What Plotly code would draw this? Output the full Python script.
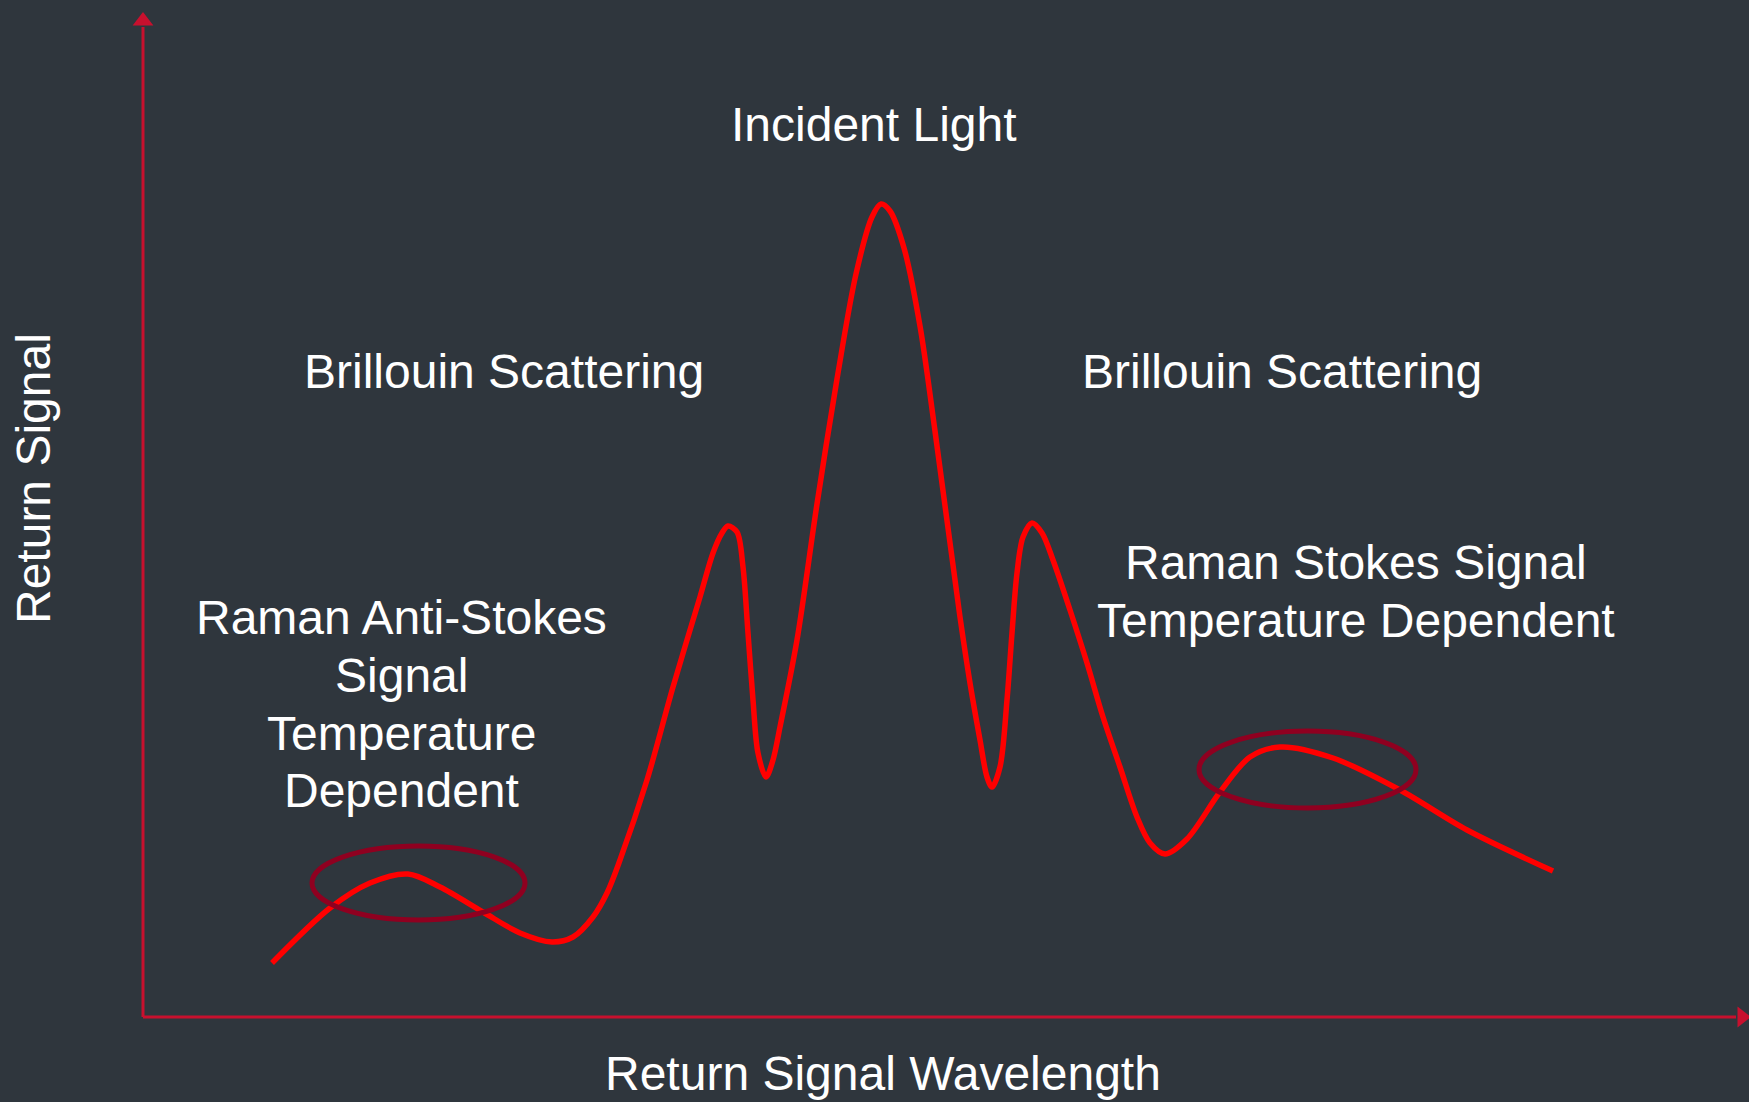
import plotly.graph_objects as go

# ---- data (arbitrary units: wavelength offset / return signal) ----
wavelength = [129, 187, 227, 265, 297, 340, 377, 409, 430, 450, 464, 477, 504, 530, 557, 570,
              579, 585, 594, 600, 605, 610, 615, 623, 630, 637, 654, 674, 694, 713, 729, 738,
              747, 761, 777, 792, 817, 827, 837, 844, 849, 857, 864, 869, 874, 880, 889, 899,
              910, 927, 944, 960, 977, 994, 1007, 1022, 1044, 1077, 1107, 1137, 1190,
              1257, 1324, 1410]
signal = [54, 109, 134, 143, 130, 105, 84, 75, 80, 100, 124, 157, 237, 330, 420, 464,
          484, 491, 485, 450, 384, 317, 264, 240, 257, 290, 377, 513, 638, 743, 800, 813,
          806, 769, 691, 586, 400, 334, 277, 240, 230, 250, 317, 384, 444, 480, 494, 484,
          457, 407, 354, 300, 250, 200, 174, 163, 178, 225, 260, 270, 259,
          227, 187, 146]

# highlighted regions (x0, x1, y0, y1)
anti_stokes_region = [169, 382, 97, 171]
stokes_region = [1056, 1273, 209, 286]

# labels: (text, x, y)
labels = [
    ("Incident Light", 731, 893),
    ("Brillouin Scattering", 361, 646),
    ("Brillouin Scattering", 1139, 646),
    ("Raman Stokes Signal", 1213, 455),
    ("Temperature Dependent", 1213, 397),
    ("Raman Anti-Stokes", 258, 400),
    ("Signal", 258, 342),
    ("Temperature", 258, 284),
    ("Dependent", 258, 227),
]
x_title = "Return Signal Wavelength"
y_title = "Return Signal"

x_axis_end = 1593
y_axis_end = 990

BG = "#2f363d"
AXIS = "#c8102e"
CURVE = "#ff0000"
RING = "#8f0020"
FONT = "Liberation Sans, Arial, sans-serif"

fig = go.Figure()

# axes lines
fig.add_trace(go.Scatter(x=[0, 0], y=[y_axis_end, 0], mode="lines",
                         line=dict(color=AXIS, width=3), hoverinfo="skip", showlegend=False))
fig.add_trace(go.Scatter(x=[0, x_axis_end], y=[0, 0], mode="lines",
                         line=dict(color=AXIS, width=3), hoverinfo="skip", showlegend=False))
# arrow heads
fig.add_trace(go.Scatter(x=[0], y=[y_axis_end + 6], mode="markers",
                         marker=dict(symbol="triangle-up", size=18, color=AXIS, line=dict(width=0)),
                         hoverinfo="skip", showlegend=False))
fig.add_trace(go.Scatter(x=[x_axis_end + 6], y=[0], mode="markers",
                         marker=dict(symbol="triangle-right", size=18, color=AXIS, line=dict(width=0)),
                         hoverinfo="skip", showlegend=False))

# spectrum curve
fig.add_trace(go.Scatter(x=wavelength, y=signal, mode="lines",
                         line=dict(color=CURVE, width=5.5, shape="spline", smoothing=0.9),
                         showlegend=False))

for r in (anti_stokes_region, stokes_region):
    fig.add_shape(type="circle", xref="x", yref="y", x0=r[0], x1=r[1], y0=r[2], y1=r[3],
                  line=dict(color=RING, width=5), layer="above")

for t, x, y in labels:
    fig.add_annotation(x=x, y=y, text=t, showarrow=False, xanchor="center", yanchor="middle",
                       font=dict(family=FONT, size=48, color="white"))

fig.add_annotation(x=740, y=-56, text=x_title, showarrow=False, xanchor="center", yanchor="middle",
                   font=dict(family=FONT, size=48, color="white"))
fig.add_annotation(x=-110, y=538, text=y_title, showarrow=False, textangle=-90,
                   xanchor="center", yanchor="middle",
                   font=dict(family=FONT, size=48, color="white"))

fig.update_layout(
    width=1749, height=1102,
    margin=dict(l=0, r=0, t=0, b=0),
    paper_bgcolor=BG, plot_bgcolor=BG,
    xaxis=dict(range=[-143, 1606], visible=False, fixedrange=True),
    yaxis=dict(range=[-85, 1017], visible=False, fixedrange=True),
    showlegend=False,
)

fig.write_html("out.html", config={"displayModeBar": False},
               post_script="document.body.style.margin='0';document.body.style.background='%s';" % BG)
